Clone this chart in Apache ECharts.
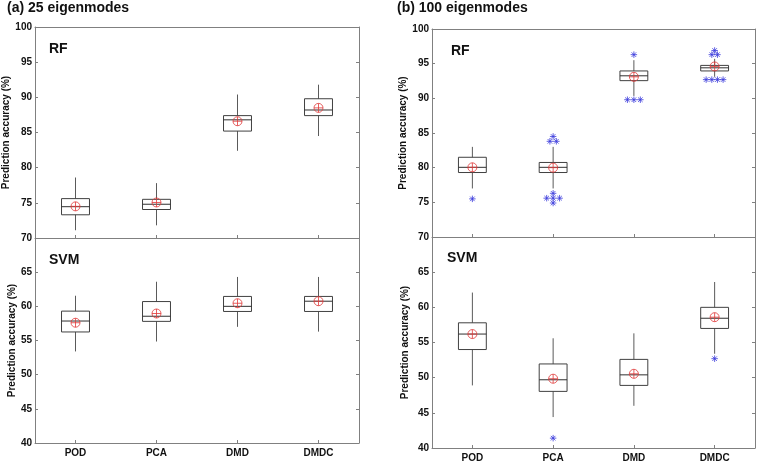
<!DOCTYPE html>
<html>
<head>
<meta charset="utf-8">
<script src="https://cdn.jsdelivr.net/npm/echarts@6/dist/echarts.min.js"></script>
<style>html,body{margin:0;padding:0;background:#fff}#c{width:760px;height:464px}</style>
</head>
<body>
<div id="c"></div>
<script>
// ---- data ----
const categories = ['POD', 'PCA', 'DMD', 'DMDC'];
const panelTitles = ['(a) 25 eigenmodes', '(b) 100 eigenmodes'];
const classifierNames = ['RF', 'SVM'];
const yAxisName = 'Prediction accuracy (%)';

// box stats: [lower whisker, Q1, median, Q3, upper whisker]
const rf25Box = [[71.1, 73.3, 74.45, 75.6, 78.6], [71.8, 74.05, 74.8, 75.5, 77.8], [82.4, 85.2, 86.8, 87.4, 90.4], [84.5, 87.4, 88.2, 89.8, 91.8]];
const rf25Mean = [74.5, 75.05, 86.6, 88.5];
const rf25Outliers = [];

const svm25Box = [[53.4, 56.25, 57.85, 59.3, 61.55], [54.85, 57.8, 58.55, 60.7, 63.6], [57.0, 59.25, 60.0, 61.45, 64.3], [56.3, 59.25, 60.75, 61.45, 64.3]];
const svm25Mean = [57.6, 58.95, 60.45, 60.75];
const svm25Outliers = [];

const rf100Box = [[77.0, 79.3, 80.05, 81.5, 83.0], [77.0, 79.3, 80.05, 80.75, 83.0], [90.35, 92.55, 93.25, 93.95, 95.5], [93.1, 93.95, 94.4, 94.75, 95.7]];
const rf100Mean = [80.05, 80.0, 93.1, 94.6];
// outliers: [category index, horizontal jitter (category units), value]
const rf100Outliers = [
  [0, 0, 75.5],
  [1, 0, 84.5], [1, -0.04, 83.8], [1, 0.04, 83.8],
  [1, 0, 76.3], [1, -0.08, 75.6], [1, 0, 75.6], [1, 0.08, 75.6], [1, 0, 74.9],
  [2, 0, 96.3], [2, -0.08, 89.8], [2, 0, 89.8], [2, 0.08, 89.8],
  [3, 0, 96.9], [3, -0.035, 96.3], [3, 0.035, 96.3],
  [3, -0.105, 92.7], [3, -0.035, 92.7], [3, 0.035, 92.7], [3, 0.105, 92.7]
];

const svm100Box = [[48.9, 54.0, 56.2, 57.8, 62.1], [44.4, 48.05, 49.7, 51.95, 55.6], [46.0, 48.9, 50.4, 52.6, 56.3], [53.4, 57.0, 58.45, 60.0, 63.6]];
const svm100Mean = [56.2, 49.85, 50.55, 58.6];
const svm100Outliers = [[1, 0, 41.4], [3, 0, 52.7]];

const rfTicks = {min: 70, max: 100, interval: 5};
const svmTicks = {min: 40, max: 70, interval: 5};

// ---- layout / style ----
const FONT = 'Liberation Sans';
const grids = [
  {left: 35, top: 27, width: 324, height: 211},
  {left: 35, top: 238, width: 324, height: 205},
  {left: 432, top: 29, width: 323, height: 208},
  {left: 432, top: 237, width: 323, height: 211}
];
const panels = [
  {box: rf25Box, mean: rf25Mean, out: rf25Outliers, ticks: rfTicks, top: true, nameGap: 24},
  {box: svm25Box, mean: svm25Mean, out: svm25Outliers, ticks: svmTicks, top: false, nameGap: 18},
  {box: rf100Box, mean: rf100Mean, out: rf100Outliers, ticks: rfTicks, top: true, nameGap: 22},
  {box: svm100Box, mean: svm100Mean, out: svm100Outliers, ticks: svmTicks, top: false, nameGap: 22}
];
const AXIS = '#808080';
const MEAN_SYMBOL = 'path://M0,5A5,5 0 1,1 10,5A5,5 0 1,1 0,5ZM0,5L10,5M5,0L5,10';
const STAR_SYMBOL = 'path://M5,0L5,10M0,5L10,5M1.5,1.5L8.5,8.5M1.5,8.5L8.5,1.5';

function renderBox(params, api) {
  const i = api.value(0);
  const lo = api.coord([i, api.value(1)]);
  const q1 = api.coord([i, api.value(2)]);
  const md = api.coord([i, api.value(3)]);
  const q3 = api.coord([i, api.value(4)]);
  const hi = api.coord([i, api.value(5)]);
  const w = api.size([1, 0])[0] * 0.345;
  const x = lo[0];
  const wh = {stroke: '#5a5a5a', lineWidth: 1};
  return {
    type: 'group',
    children: [
      {type: 'line', shape: {x1: x, y1: hi[1], x2: x, y2: q3[1]}, style: wh},
      {type: 'line', shape: {x1: x, y1: q1[1], x2: x, y2: lo[1]}, style: wh},
      {type: 'rect', shape: {x: x - w / 2, y: q3[1], width: w, height: q1[1] - q3[1]}, style: {fill: 'none', stroke: '#404040', lineWidth: 1}},
      {type: 'line', shape: {x1: x - w / 2, y1: md[1], x2: x + w / 2, y2: md[1]}, style: {stroke: '#303030', lineWidth: 1}}
    ]
  };
}

const xAxis = [], yAxis = [], series = [];
panels.forEach((p, g) => {
  xAxis.push({
    gridIndex: g, type: 'category', data: categories, position: 'bottom',
    axisLine: {show: true, onZero: false, lineStyle: {color: AXIS, width: 1}},
    axisTick: {show: true, inside: true, alignWithLabel: true, length: 3, lineStyle: {color: AXIS}},
    axisLabel: {show: !p.top, margin: 5, color: '#111', fontFamily: FONT, fontWeight: 'bold', fontSize: 10},
    splitLine: {show: false}
  });
  xAxis.push({
    gridIndex: g, type: 'category', data: categories, position: 'top',
    axisLine: {show: p.top, onZero: false, lineStyle: {color: AXIS, width: 1}},
    axisTick: {show: false}, axisLabel: {show: false}, splitLine: {show: false}
  });
  xAxis.push({gridIndex: g, type: 'value', min: -0.5, max: 3.5, show: false, axisLine: {onZero: false}});
  yAxis.push({
    gridIndex: g, type: 'value', position: 'left',
    min: p.ticks.min, max: p.ticks.max, interval: p.ticks.interval,
    name: yAxisName, nameLocation: 'middle', nameGap: p.nameGap,
    nameTextStyle: {fontFamily: FONT, fontWeight: 'bold', fontSize: 10, color: '#111'},
    axisLine: {show: true, onZero: false, lineStyle: {color: AXIS, width: 1}},
    axisTick: {show: true, inside: true, length: 3, lineStyle: {color: AXIS}},
    axisLabel: {margin: 3, color: '#111', fontFamily: FONT, fontWeight: 'bold', fontSize: 10, showMinLabel: !p.top},
    splitLine: {show: false}
  });
  yAxis.push({
    gridIndex: g, type: 'value', position: 'right',
    min: p.ticks.min, max: p.ticks.max, interval: p.ticks.interval,
    axisLine: {show: true, onZero: false, lineStyle: {color: AXIS, width: 1}},
    axisTick: {show: true, inside: true, length: 3, lineStyle: {color: AXIS}},
    axisLabel: {show: false}, splitLine: {show: false}
  });
  series.push({
    type: 'custom', xAxisIndex: 3 * g, yAxisIndex: 2 * g, z: 2,
    renderItem: renderBox,
    encode: {x: 0, y: [1, 2, 3, 4, 5]},
    data: p.box.map((b, i) => [i].concat(b))
  });
  series.push({
    type: 'scatter', xAxisIndex: 3 * g, yAxisIndex: 2 * g, z: 4,
    symbol: MEAN_SYMBOL, symbolSize: 9,
    itemStyle: {color: 'rgba(0,0,0,0)', borderColor: '#e03a3a', borderWidth: 1},
    data: p.mean.map((m, i) => [i, m])
  });
  series.push({
    type: 'scatter', xAxisIndex: 3 * g + 2, yAxisIndex: 2 * g, z: 4,
    symbol: STAR_SYMBOL, symbolSize: 6.5,
    itemStyle: {color: 'rgba(0,0,0,0)', borderColor: '#3b3bdc', borderWidth: 1},
    data: p.out.map(o => [o[0] + o[1], o[2]])
  });
});

const titleStyle = {fontFamily: FONT, fontWeight: 'bold', color: '#111'};
const option = {
  animation: false,
  backgroundColor: '#fff',
  title: [
    {text: panelTitles[0], left: 7, top: 1, padding: 0, textStyle: Object.assign({fontSize: 14}, titleStyle)},
    {text: panelTitles[1], left: 397, top: 1, padding: 0, textStyle: Object.assign({fontSize: 14}, titleStyle)},
    {text: classifierNames[0], left: 49, top: 42, padding: 0, textStyle: Object.assign({fontSize: 14}, titleStyle)},
    {text: classifierNames[1], left: 49, top: 253, padding: 0, textStyle: Object.assign({fontSize: 14}, titleStyle)},
    {text: classifierNames[0], left: 451, top: 44, padding: 0, textStyle: Object.assign({fontSize: 14}, titleStyle)},
    {text: classifierNames[1], left: 447, top: 251, padding: 0, textStyle: Object.assign({fontSize: 14}, titleStyle)}
  ],
  grid: grids,
  xAxis: xAxis,
  yAxis: yAxis,
  series: series
};
const chart = echarts.init(document.getElementById('c'), null, {renderer: 'canvas'});
chart.setOption(option);
</script>
</body>
</html>
